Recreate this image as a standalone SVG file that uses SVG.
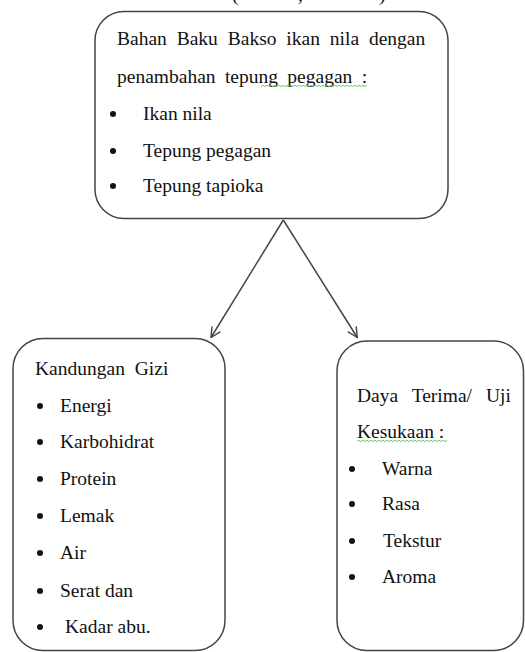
<svg xmlns="http://www.w3.org/2000/svg" width="525" height="652" viewBox="0 0 525 652">
<defs>
<style>
.box{fill:#fff;stroke:#444;stroke-width:1.5}
.t{font-family:'Liberation Serif','DejaVu Serif','Noto Serif',serif;font-size:19.5px;fill:#111}
.b{fill:#111}
.sq{fill:none;stroke:#5c5;stroke-width:0.9}
.con{stroke:#444;stroke-width:1.5;fill:none}
</style>
<marker id="arr" viewBox="0 0 12 12" refX="11" refY="6" markerWidth="12" markerHeight="12" markerUnits="userSpaceOnUse" orient="auto">
<path d="M1,1 L11,6 L1,11" fill="none" stroke="#444" stroke-width="1.4"/>
</marker>
</defs>
<rect width="525" height="652" fill="#fff"/>
<g id="caption" font-family="Liberation Serif, serif">
<text class="t" x="232" y="0.8">(</text>
<text class="t" x="298" y="0.5">,</text>
<text class="t" x="379" y="0.8">)</text>
</g>
<g id="connectors">
<line class="con" x1="283.3" y1="220" x2="211" y2="337.5" marker-end="url(#arr)"/>
<line class="con" x1="283.3" y1="220" x2="357.3" y2="337.5" marker-end="url(#arr)"/>
</g>
<g id="node-bahan" font-family="Liberation Serif, serif">
<rect class="box" x="95" y="11.5" width="353" height="207" rx="29" ry="29"/>
<text class="t" x="117" y="45" word-spacing="5">Bahan Baku Bakso ikan nila dengan</text>
<text class="t" x="117" y="83" word-spacing="4.5">penambahan tepung pegagan :</text>
<path class="sq" d="M261,86.5 l2,-1.2 l2,1.2 l2,-1.2 l2,1.2 l2,-1.2 l2,1.2 l2,-1.2 l2,1.2 l2,-1.2 l2,1.2 l2,-1.2 l2,1.2 l2,-1.2 l2,1.2 l2,-1.2 l2,1.2 l2,-1.2 l2,1.2 l2,-1.2 l2,1.2 l2,-1.2 l2,1.2 l2,-1.2 l2,1.2 l2,-1.2 l2,1.2 l2,-1.2 l2,1.2 l2,-1.2 l2,1.2 l2,-1.2 l2,1.2 l2,-1.2 l2,1.2 l2,-1.2 l2,1.2 l2,-1.2 l2,1.2 l2,-1.2 l2,1.2 l2,-1.2 l2,1.2 l2,-1.2 l2,1.2 l2,-1.2 l2,1.2 l2,-1.2 l2,1.2 l2,-1.2 l2,1.2 l2,-1.2 l2,1.2 l2,-1.2"/>
<circle class="b" cx="113" cy="114" r="3"/>
<text class="t" x="143" y="120">Ikan nila</text>
<circle class="b" cx="113" cy="151" r="3"/>
<text class="t" x="143" y="157">Tepung pegagan</text>
<circle class="b" cx="113" cy="186" r="3"/>
<text class="t" x="143" y="192">Tepung tapioka</text>
</g>
<g id="node-gizi" font-family="Liberation Serif, serif">
<rect class="box" x="13" y="338.5" width="212" height="312" rx="30" ry="30"/>
<text class="t" x="35" y="375" word-spacing="5">Kandungan Gizi</text>
<circle class="b" cx="40" cy="406" r="3"/>
<text class="t" x="60" y="412">Energi</text>
<circle class="b" cx="40" cy="442" r="3"/>
<text class="t" x="60" y="448">Karbohidrat</text>
<circle class="b" cx="40" cy="479" r="3"/>
<text class="t" x="60" y="485">Protein</text>
<circle class="b" cx="40" cy="516" r="3"/>
<text class="t" x="60" y="522">Lemak</text>
<circle class="b" cx="40" cy="553" r="3"/>
<text class="t" x="60" y="559">Air</text>
<circle class="b" cx="40" cy="591" r="3"/>
<text class="t" x="60" y="597">Serat dan</text>
<circle class="b" cx="40" cy="627" r="3"/>
<text class="t" x="65" y="633">Kadar abu.</text>
</g>
<g id="node-daya" font-family="Liberation Serif, serif">
<rect class="box" x="337" y="341" width="186.5" height="309.5" rx="30" ry="30"/>
<text class="t" x="357" y="402" word-spacing="9">Daya Terima/ Uji</text>
<text class="t" x="357" y="438">Kesukaan :</text>
<path class="sq" d="M357,441.5 l2,-1.2 l2,1.2 l2,-1.2 l2,1.2 l2,-1.2 l2,1.2 l2,-1.2 l2,1.2 l2,-1.2 l2,1.2 l2,-1.2 l2,1.2 l2,-1.2 l2,1.2 l2,-1.2 l2,1.2 l2,-1.2 l2,1.2 l2,-1.2 l2,1.2 l2,-1.2 l2,1.2 l2,-1.2 l2,1.2 l2,-1.2 l2,1.2 l2,-1.2 l2,1.2 l2,-1.2 l2,1.2 l2,-1.2 l2,1.2 l2,-1.2 l2,1.2 l2,-1.2 l2,1.2 l2,-1.2 l2,1.2 l2,-1.2 l2,1.2 l2,-1.2 l2,1.2 l2,-1.2 l2,1.2 l2,-1.2"/>
<circle class="b" cx="352" cy="469" r="3"/>
<text class="t" x="382" y="475">Warna</text>
<circle class="b" cx="352" cy="504" r="3"/>
<text class="t" x="382" y="510">Rasa</text>
<circle class="b" cx="352" cy="541" r="3"/>
<text class="t" x="383" y="547">Tekstur</text>
<circle class="b" cx="352" cy="577" r="3"/>
<text class="t" x="382" y="583">Aroma</text>
</g>
</svg>
